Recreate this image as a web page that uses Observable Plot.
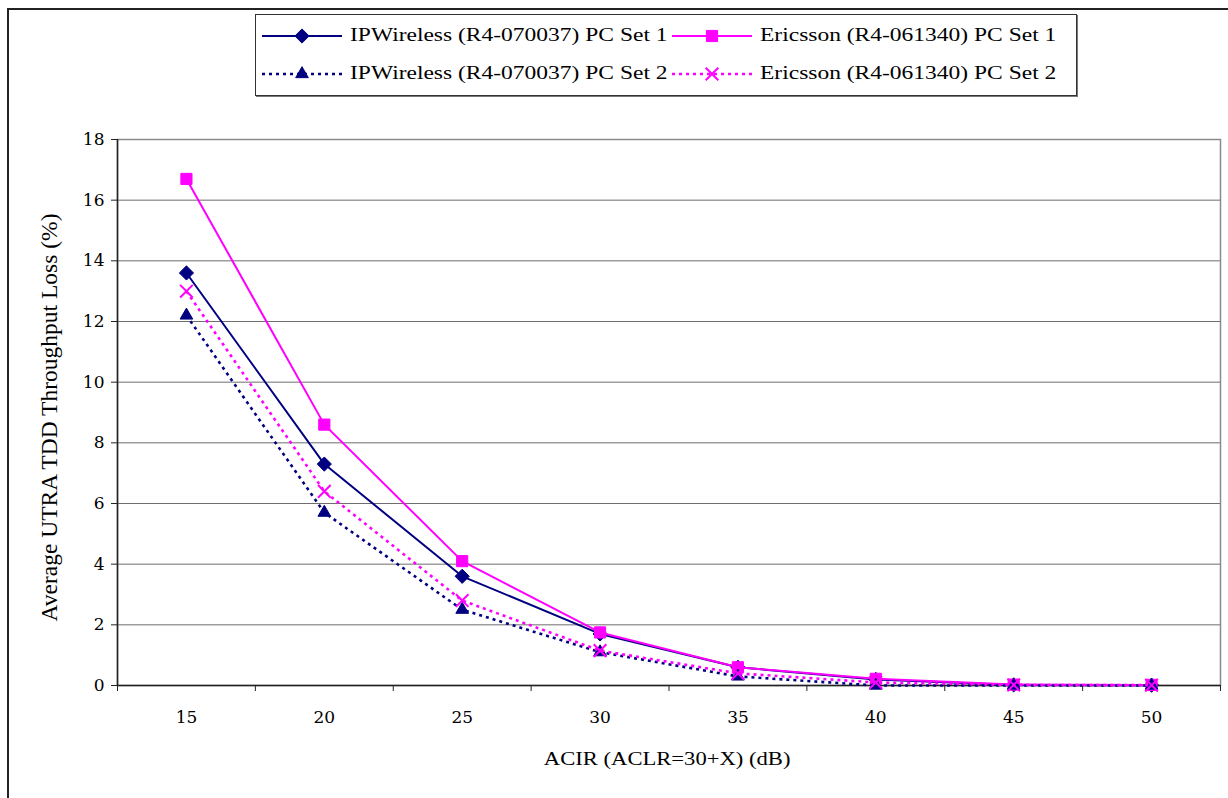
<!DOCTYPE html>
<html>
<head>
<meta charset="utf-8">
<script src="https://cdn.jsdelivr.net/npm/d3@7"></script>
<script src="https://cdn.jsdelivr.net/npm/@observablehq/plot@0.6"></script>
<style>
  html, body { margin: 0; padding: 0; background: #fff; }
  #wrap { position: relative; width: 1228px; height: 798px; overflow: hidden; font-family: "Liberation Serif", "Times New Roman", serif; }
  #outer { position: absolute; left: 7px; top: 8px; width: 1240px; height: 810px; border-left: 2px solid #222; border-top: 2px solid #222; pointer-events: none; }
  #legend { position: absolute; left: 255px; top: 14px; width: 820px; height: 80px; border: 1px solid #333; box-shadow: 1px 1px 0 #777; background: #fff; }
  .item { position: absolute; height: 30px; font-size: 18.5px; color: #000; white-space: nowrap; }
  .item svg { position: absolute; left: 0; top: 0; }
  .item span { position: absolute; left: 88px; top: 4px; transform-origin: 0 50%; transform: scaleX(1.27); }
  .ylab { position: absolute; font-size: 23.5px; transform: rotate(-90deg); white-space: nowrap; }
  .xlab { position: absolute; font-size: 18px; white-space: nowrap; transform: scaleX(1.256); }
</style>
</head>
<body>
<div id="wrap"></div>
<script>
// ---- data ----
const acir = [15, 20, 25, 30, 35, 40, 45, 50];
const ipwSet1 = [13.6, 7.3, 3.6, 1.7, 0.6, 0.2, 0.02, 0.01];
const ericSet1 = [16.7, 8.6, 4.1, 1.75, 0.6, 0.22, 0.03, 0.02];
const ipwSet2 = [12.2, 5.7, 2.5, 1.1, 0.3, 0.0, 0.0, 0.0];
const ericSet2 = [13.0, 6.4, 2.8, 1.15, 0.4, 0.1, 0.02, 0.01];
const seriesNames = [
  "IPWireless (R4-070037) PC Set 1",
  "Ericsson (R4-061340) PC Set 1",
  "IPWireless (R4-070037) PC Set 2",
  "Ericsson (R4-061340) PC Set 2"
];
const yTicks = [0, 2, 4, 6, 8, 10, 12, 14, 16, 18];
const xTitle = "ACIR (ACLR=30+X) (dB)";
const yTitle = "Average UTRA TDD Throughput Loss (%)";

// ---- styles ----
const navy = "#000080", magenta = "#ff00ff";
const styles = [
  {stroke: navy, dash: null, width: 2, symbol: "diamond2", r: 6.4, fill: navy, mstroke: navy, mw: 1},
  {stroke: magenta, dash: null, width: 2, symbol: "square", r: 6.3, fill: magenta, mstroke: magenta, mw: 1},
  {stroke: navy, dash: "3,4", width: 2.6, symbol: "triangle", r: 4.7, fill: navy, mstroke: navy, mw: 1},
  {stroke: magenta, dash: "3,4", width: 2.6, symbol: "times", r: 5.8, fill: "none", mstroke: magenta, mw: 2}
];
const values = [ipwSet1, ericSet1, ipwSet2, ericSet2];
const seriesData = values.map((vals, i) => acir.map((x, j) => ({acir: x, loss: vals[j], series: seriesNames[i]})));

const step = acir[1] - acir[0];
const bounds = [...acir.map(d => d - step / 2), acir[acir.length - 1] + step / 2];
const FONT = "'Liberation Serif', 'Times New Roman', serif";
const TICKFONT = "'DejaVu Serif', 'Liberation Serif', serif";

const marks = [
  Plot.ruleY(yTicks, {stroke: "#6e6e6e", strokeWidth: 1}),
  Plot.frame({stroke: "#8a8a8a", strokeWidth: 1.5}),
  Plot.ruleX([bounds[0]], {stroke: "#222", strokeWidth: 1.5}),
  Plot.ruleY([0], {stroke: "#222", strokeWidth: 1.5}),
  Plot.axisY(yTicks, {tickSize: 6, tickPadding: 7, fontSize: 17, fontFamily: TICKFONT, stroke: "#222", label: null, fill: "#000"}),
  Plot.axisX(bounds, {tickSize: 6, tickFormat: () => "", stroke: "#222", label: null}),
  Plot.axisX(acir, {tickSize: 0, tickPadding: 25, fontSize: 17, fontFamily: TICKFONT, label: null, fill: "#000"})
];
seriesData.forEach((data, i) => {
  const s = styles[i];
  marks.push(Plot.line(data, {x: "acir", y: "loss", stroke: s.stroke, strokeWidth: s.width, strokeDasharray: s.dash, strokeLinecap: "butt"}));
  marks.push(Plot.dot(data, {x: "acir", y: "loss", symbol: () => s.symbol, r: s.r, fill: s.fill, stroke: s.mstroke, strokeWidth: s.mw}));
});

const chart = Plot.plot({
  width: 1228,
  height: 798,
  marginLeft: 117,
  marginRight: 8,
  marginTop: 139,
  marginBottom: 113,
  x: {domain: [bounds[0], bounds[bounds.length - 1]], axis: null},
  y: {domain: [0, 18], axis: null},
  style: {fontFamily: FONT, background: "#fff", overflow: "visible"},
  marks
});

const wrap = document.getElementById("wrap");
wrap.appendChild(chart);

const outer = document.createElement("div");
outer.id = "outer";
wrap.appendChild(outer);

// axis titles
const xl = document.createElement("div");
xl.className = "xlab";
xl.textContent = xTitle;
wrap.appendChild(xl);
xl.style.left = (667 - xl.offsetWidth / 2) + "px";
xl.style.top = (759 - xl.offsetHeight / 2) + "px";

const yl = document.createElement("div");
yl.className = "ylab";
yl.textContent = yTitle;
wrap.appendChild(yl);
yl.style.left = (50 - yl.offsetWidth / 2) + "px";
yl.style.top = (417 - yl.offsetHeight / 2) + "px";

// legend
const legend = document.createElement("div");
legend.id = "legend";
wrap.appendChild(legend);
const pos = [[6, 6], [416, 6], [6, 44], [416, 44]];
const symMap = {diamond2: d3.symbolDiamond2, square: d3.symbolSquare, triangle: d3.symbolTriangle, times: d3.symbolTimes};
seriesNames.forEach((name, i) => {
  const s = styles[i];
  const item = document.createElement("div");
  item.className = "item";
  item.style.left = pos[i][0] + "px";
  item.style.top = pos[i][1] + "px";
  const svg = d3.create("svg").attr("width", 80).attr("height", 30);
  svg.append("line").attr("x1", 0).attr("x2", 80).attr("y1", 15).attr("y2", 15)
    .attr("stroke", s.stroke).attr("stroke-width", s.width)
    .attr("stroke-dasharray", s.dash);
  svg.append("path").attr("transform", "translate(40,15)")
    .attr("d", d3.symbol(symMap[s.symbol], Math.PI * s.r * s.r)())
    .attr("fill", s.fill).attr("stroke", s.mstroke).attr("stroke-width", s.mw);
  item.appendChild(svg.node());
  const t = document.createElement("span");
  t.textContent = name;
  item.appendChild(t);
  legend.appendChild(item);
});
</script>
</body>
</html>
